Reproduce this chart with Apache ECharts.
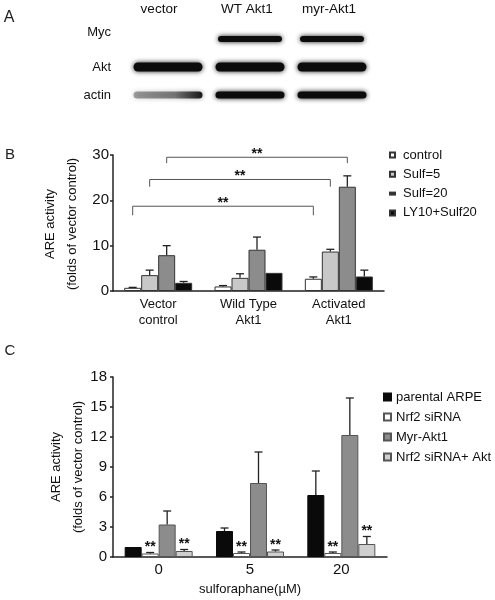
<!DOCTYPE html>
<html>
<head>
<meta charset="utf-8">
<script src="https://cdn.jsdelivr.net/npm/echarts@6/dist/echarts.min.js"></script>
<style>
  html, body { margin: 0; padding: 0; background: #fff; }
  #chart { width: 495px; height: 600px; }
</style>
</head>
<body>
<div id="chart"></div>
<script>
// ---- panel A: western blot (band intensity per lane) ----
const blotLanes = ['vector', 'WT Akt1', 'myr-Akt1'];
const blotRows = ['Myc', 'Akt', 'actin'];
const blotMyc = [0, 1, 1];
const blotAkt = [1, 1, 1];
const blotActin = [0.5, 1, 1];

// ---- panel B ----
const bCats = ['Vector\ncontrol', 'Wild Type\nAkt1', 'Activated\nAkt1'];
const bNames = ['control', 'Sulf=5', 'Sulf=20', 'LY10+Sulf20'];
const bControl = [0.7, 1.0, 2.7];
const bControlErr = [0.8, 1.2, 3.1];
const bSulf5 = [3.5, 2.9, 8.7];
const bSulf5Err = [4.6, 3.8, 9.2];
const bSulf20 = [7.9, 9.1, 23.0];
const bSulf20Err = [10.0, 11.9, 25.4];
const bLY = [1.8, 4.0, 3.2];
const bLYErr = [2.1, 4.0, 4.6];
const bTicks = [0, 10, 20, 30];
// brackets: [catA, seriesA, catB, seriesB, level, drop]
const bBrackets = [
  [0, 0, 2, 0, 18.7, 16.7],
  [0, 1, 2, 1, 24.6, 23.0],
  [0, 2, 2, 2, 29.5, 28.2]
];

// ---- panel C ----
const cCats = ['0', '5', '20'];
const cNames = ['parental ARPE', 'Nrf2 siRNA', 'Myr-Akt1', 'Nrf2 siRNA+ Akt'];
const cParental = [1.0, 2.6, 6.2];
const cParentalErr = [1.0, 2.9, 8.6];
const cNrf2 = [0.35, 0.4, 0.4];
const cNrf2Err = [0.45, 0.5, 0.5];
const cMyr = [3.25, 7.4, 12.2];
const cMyrErr = [4.6, 10.5, 15.9];
const cNrf2Akt = [0.6, 0.55, 1.3];
const cNrf2AktErr = [0.75, 0.7, 2.05];
const cSig = [[0, 0, 0], [1, 1, 1], [0, 0, 0], [1, 1, 1]];
const cTicks = [0, 3, 6, 9, 12, 15, 18];

const FONT = '"Liberation Sans", Arial, sans-serif';
const BAR_W = 17;
const bColors = ['#ffffff', '#c8c8c8', '#8c8c8c', '#0a0a0a'];
const cColors = ['#0a0a0a', '#ffffff', '#8c8c8c', '#cfcfcf'];

const bVals = [bControl, bSulf5, bSulf20, bLY];
const bErrs = [bControlErr, bSulf5Err, bSulf20Err, bLYErr];
const cVals = [cParental, cNrf2, cMyr, cNrf2Akt];
const cErrs = [cParentalErr, cNrf2Err, cMyrErr, cNrf2AktErr];

function errData(vals, errs, sig) {
  const out = [];
  vals.forEach((arr, s) => arr.forEach((v, i) => {
    out.push([i, s, v, errs[s][i], sig ? sig[s][i] : 0]);
  }));
  return out;
}

function barX(api, cat, s) {
  return api.coord([cat, 0])[0] + (s - 1.5) * BAR_W;
}

// error bars (upper half only) + optional ** mark
function renderErr(params, api) {
  const cat = api.value(0), s = api.value(1);
  const v = api.value(2), e = api.value(3), sig = api.value(4);
  const x = barX(api, cat, s);
  const y0 = api.coord([cat, v])[1];
  const y1 = api.coord([cat, e])[1];
  const children = [];
  if (e > v) {
    children.push({
      type: 'line', shape: { x1: x, y1: y0, x2: x, y2: y1 },
      style: { stroke: '#222', lineWidth: 1.3 }
    });
    children.push({
      type: 'line', shape: { x1: x - 4, y1: y1, x2: x + 4, y2: y1 },
      style: { stroke: '#222', lineWidth: 1.3 }
    });
  }
  if (sig) {
    children.push({
      type: 'text', x: x, y: y1 + 2,
      style: { text: '**', fill: '#111', font: 'bold 14px ' + FONT, align: 'center', verticalAlign: 'bottom' }
    });
  }
  return { type: 'group', children };
}

function renderBracket(params, api) {
  const xa = barX(api, api.value(0), api.value(1));
  const xb = barX(api, api.value(2), api.value(3));
  const yl = api.coord([0, api.value(4)])[1];
  const yd = api.coord([0, api.value(5)])[1];
  return {
    type: 'group',
    children: [
      {
        type: 'polyline',
        shape: { points: [[xa, yd], [xa, yl], [xb, yl], [xb, yd]] },
        style: { stroke: '#555', lineWidth: 1, fill: null }
      },
      {
        type: 'text', x: (xa + xb) / 2, y: yl + 4,
        style: { text: '**', fill: '#111', font: 'bold 14px ' + FONT, align: 'center', verticalAlign: 'bottom' }
      }
    ]
  };
}

// blot bands
const blotData = [];
[blotMyc, blotAkt, blotActin].forEach((row, r) => row.forEach((v, l) => {
  if (v > 0) blotData.push([l, r, v]);
}));
const bandH = [6, 9, 7];
const bandW = [64, 69, 69];
function renderBand(params, api) {
  const l = api.value(0), r = api.value(1), v = api.value(2);
  const p = api.coord([l, r]);
  const h = bandH[r], w = bandW[r];
  let fill = '#0c0c0c';
  if (v < 1) {
    fill = {
      type: 'linear', x: 0, y: 0, x2: 1, y2: 0,
      colorStops: [
        { offset: 0, color: 'rgba(40,40,40,0.4)' },
        { offset: 0.6, color: 'rgba(40,40,40,0.55)' },
        { offset: 1, color: 'rgba(15,15,15,0.95)' }
      ]
    };
  }
  return {
    type: 'rect',
    shape: { x: p[0] - w / 2, y: p[1] - h / 2, width: w, height: h, r: h / 2 },
    style: { fill: fill, shadowBlur: 5, shadowColor: v < 1 ? 'rgba(60,60,60,0.6)' : 'rgba(0,0,0,0.9)' }
  };
}

const axisLineStyle = { color: '#222', width: 1.5 };

const option = {
  backgroundColor: '#fff',
  animation: false,
  textStyle: { fontFamily: FONT },
  grid: [
    { left: 127, top: 25, width: 246, height: 84 },
    { left: 113, top: 155, width: 271, height: 136 },
    { left: 113, top: 377, width: 274, height: 180 }
  ],
  xAxis: [
    {
      gridIndex: 0, type: 'category', position: 'top',
      data: blotLanes.map((n, i) => i === 0 ? { value: n, textStyle: { padding: [0, 18, 0, 0] } } : { value: n, textStyle: { padding: [0, 6, 0, 0] } }),
      axisLine: { show: false }, axisTick: { show: false },
      axisLabel: { color: '#111', fontSize: 13.5, margin: 9, fontFamily: FONT }
    },
    {
      gridIndex: 1, type: 'category', data: bCats,
      axisLine: { lineStyle: axisLineStyle },
      axisTick: { alignWithLabel: true, length: 4, lineStyle: axisLineStyle },
      axisLabel: { color: '#111', fontSize: 13, lineHeight: 16, margin: 5, fontFamily: FONT }
    },
    {
      gridIndex: 2, type: 'category', data: cCats,
      name: 'sulforaphane(\u00b5M)', nameLocation: 'middle', nameGap: 26,
      nameTextStyle: { color: '#111', fontSize: 13, fontFamily: FONT },
      axisLine: { lineStyle: axisLineStyle },
      axisTick: { alignWithLabel: true, length: 4, lineStyle: axisLineStyle },
      axisLabel: { color: '#111', fontSize: 15, margin: 5, fontFamily: FONT }
    }
  ],
  yAxis: [
    {
      gridIndex: 0, type: 'category', inverse: true,
      data: blotRows.map((n, i) => i === 0 ? { value: n, textStyle: { verticalAlign: 'bottom' } } : n),
      axisLine: { show: false }, axisTick: { show: false },
      axisLabel: { color: '#111', fontSize: 13, margin: 16, fontFamily: FONT }
    },
    {
      gridIndex: 1, type: 'value', min: bTicks[0], max: bTicks[bTicks.length - 1], interval: 10,
      axisLine: { show: true, lineStyle: axisLineStyle },
      axisTick: { show: true, length: 3, lineStyle: axisLineStyle },
      axisLabel: { color: '#111', fontSize: 15, margin: 4, fontFamily: FONT },
      splitLine: { show: false }
    },
    {
      gridIndex: 2, type: 'value', min: cTicks[0], max: cTicks[cTicks.length - 1], interval: 3,
      axisLine: { show: true, lineStyle: axisLineStyle },
      axisTick: { show: true, length: 3, lineStyle: axisLineStyle },
      axisLabel: { color: '#111', fontSize: 15, margin: 6, fontFamily: FONT },
      splitLine: { show: false }
    }
  ],
  legend: [
    {
      orient: 'vertical', left: 384, top: 142,
      itemWidth: 5, itemHeight: 5, itemGap: 3.3,
      data: bNames.map((n, i) => i === 2 ? { name: n, icon: 'path://M0,0H10V4H0Z' } : { name: n, icon: 'rect' }),
      textStyle: { color: '#111', fontSize: 13, lineHeight: 16, padding: [0, 0, 0, 3], fontFamily: FONT }
    },
    {
      orient: 'vertical', left: 378, top: 384,
      itemWidth: 7, itemHeight: 7, itemGap: 4,
      icon: 'rect',
      data: cNames,
      textStyle: { color: '#111', fontSize: 13, lineHeight: 16, fontFamily: FONT }
    }
  ],
  graphic: [
    { type: 'text', x: 9, y: 18, style: { text: 'A', font: '16px ' + FONT, fill: '#222', align: 'center', verticalAlign: 'middle' } },
    { type: 'text', x: 10, y: 155, style: { text: 'B', font: '15px ' + FONT, fill: '#222', align: 'center', verticalAlign: 'middle' } },
    { type: 'text', x: 10, y: 351, style: { text: 'C', font: '15px ' + FONT, fill: '#222', align: 'center', verticalAlign: 'middle' } },
    { type: 'text', x: 50, y: 224, rotation: Math.PI / 2, style: { text: 'ARE activity', font: '13px ' + FONT, fill: '#111', align: 'center', verticalAlign: 'middle' } },
    { type: 'text', x: 72, y: 224, rotation: Math.PI / 2, style: { text: '(folds of vector control)', font: '13px ' + FONT, fill: '#111', align: 'center', verticalAlign: 'middle' } },
    { type: 'text', x: 56, y: 467, rotation: Math.PI / 2, style: { text: 'ARE activity', font: '13px ' + FONT, fill: '#111', align: 'center', verticalAlign: 'middle' } },
    { type: 'text', x: 78, y: 467, rotation: Math.PI / 2, style: { text: '(folds of vector control)', font: '13px ' + FONT, fill: '#111', align: 'center', verticalAlign: 'middle' } }
  ],
  series: [
    {
      type: 'custom', xAxisIndex: 0, yAxisIndex: 0,
      renderItem: renderBand, data: blotData, encode: { x: 0, y: 1 }, silent: true
    },
    ...bNames.map((n, s) => ({
      name: n, type: 'bar', xAxisIndex: 1, yAxisIndex: 1,
      barWidth: BAR_W, barGap: '0%',
      data: bVals[s],
      itemStyle: { color: bColors[s], borderColor: '#333', borderWidth: 1 }
    })),
    {
      type: 'custom', xAxisIndex: 1, yAxisIndex: 1, z: 3,
      renderItem: renderErr, data: errData(bVals, bErrs), encode: { x: 0, y: [2, 3] }
    },
    {
      type: 'custom', xAxisIndex: 1, yAxisIndex: 1, z: 3,
      renderItem: renderBracket, data: bBrackets, encode: { x: 0, y: [4, 5] }
    },
    ...cNames.map((n, s) => ({
      name: n, type: 'bar', xAxisIndex: 2, yAxisIndex: 2,
      barWidth: BAR_W, barGap: '0%',
      data: cVals[s],
      itemStyle: { color: cColors[s], borderColor: s === 0 ? '#0a0a0a' : '#555', borderWidth: 1 }
    })),
    {
      type: 'custom', xAxisIndex: 2, yAxisIndex: 2, z: 3,
      renderItem: renderErr, data: errData(cVals, cErrs, cSig), encode: { x: 0, y: [2, 3] }
    }
  ]
};

const myChart = echarts.init(document.getElementById('chart'));
myChart.setOption(option);
</script>
</body>
</html>
